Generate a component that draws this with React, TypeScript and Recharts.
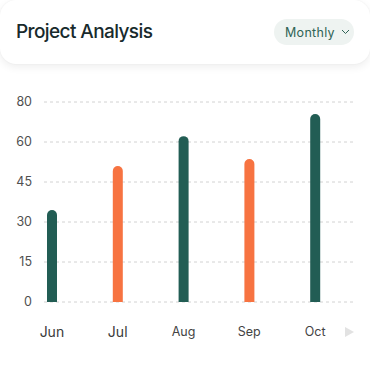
import React from "react";
import { BarChart, Bar, XAxis, YAxis, CartesianGrid, Cell } from "recharts";

const months = ["Jun", "Jul", "Aug", "Sep", "Oct"];
const values = [34.5, 51, 62.2, 53.6, 70.5];
const barColors = ["#225d54", "#f77341", "#225d54", "#f77341", "#225d54"];
const yTicks = [0, 15, 30, 45, 60, 75];
const yTickLabels = ["0", "15", "30", "45", "60", "80"];

const data = months.map((m, i) => ({ month: m, value: values[i] }));

const FONT = "Inter, 'Noto Sans', sans-serif";

const XTick = (props: any) => {
  const { x, y, payload, index } = props;
  const big = index < 2;
  return (
    <text
      x={x}
      y={y}
      dy="0.71em"
      textAnchor="middle"
      fill={big ? "#3a3a3a" : "#444"}
      fontSize={big ? 14 : 12.5}
      fontWeight={400}
      fontFamily={FONT}
    >
      {payload.value}
    </text>
  );
};

export default function App() {
  return (
    <div
      style={{
        position: "absolute",
        left: 0,
        top: 0,
        width: 370,
        height: 379,
        background: "#fff",
        fontFamily: FONT,
        overflow: "hidden",
      }}
    >
      <div style={{ position: "absolute", left: 0, top: 64 }}>
        <BarChart
          width={370}
          height={315}
          data={data}
          margin={{ top: 38, right: 17, left: 0, bottom: 52 }}
        >
          <CartesianGrid
            vertical={false}
            stroke="#d2d2d2"
            strokeDasharray="3 3"
          />
          <XAxis
            dataKey="month"
            axisLine={false}
            tickLine={false}
            tickSize={0}
            tickMargin={25}
            height={25}
            padding={{ left: -25, right: 5 }}
            tick={<XTick />}
            interval={0}
          />
          <YAxis
            domain={[0, 75]}
            ticks={yTicks}
            width={44}
            axisLine={false}
            tickLine={false}
            tickSize={0}
            tickMargin={12}
            tickFormatter={(v: number) => yTickLabels[yTicks.indexOf(v)]}
            tick={{ fill: "#505050", fontSize: 12.5, fontFamily: FONT }}
            interval={0}
          />
          <Bar dataKey="value" barSize={10} radius={[5, 5, 0, 0]} isAnimationActive={false}>
            {data.map((d, i) => (
              <Cell key={d.month} fill={barColors[i]} />
            ))}
          </Bar>
        </BarChart>
      </div>
      <div
        style={{
          position: "absolute",
          left: 345,
          top: 327,
          width: 0,
          height: 0,
          borderTop: "5.5px solid transparent",
          borderBottom: "5.5px solid transparent",
          borderLeft: "9px solid #e2e2e2",
        }}
      />
      <div
        style={{
          position: "absolute",
          left: 0,
          top: 0,
          width: 370,
          height: 64,
          background: "#fff",
          borderRadius: 16,
          boxShadow: "0 3px 8px rgba(0,0,0,0.07), 0 0 2px rgba(0,0,0,0.05)",
        }}
      >
        <div
          style={{
            position: "absolute",
            left: 16,
            top: 20,
            fontSize: 19,
            fontWeight: 500,
            color: "#182a2c",
            letterSpacing: -0.6,
            lineHeight: "24px",
          }}
        >
          Project Analysis
        </div>
        <div
          style={{
            position: "absolute",
            left: 274,
            top: 19,
            width: 80,
            height: 26,
            borderRadius: 13,
            background: "#eef3f1",
            color: "#2f6355",
            fontSize: 12.5,
            fontWeight: 400,
            display: "flex",
            alignItems: "center",
            boxSizing: "border-box",
            paddingLeft: 11,
            letterSpacing: 0.3,
          }}
        >
          Monthly
          <svg width="9" height="6" style={{ marginLeft: 6 }} viewBox="0 0 9 6">
            <path d="M1 1 L4.5 4.5 L8 1" fill="none" stroke="#2f6355" strokeWidth="1" />
          </svg>
        </div>
      </div>
    </div>
  );
}
